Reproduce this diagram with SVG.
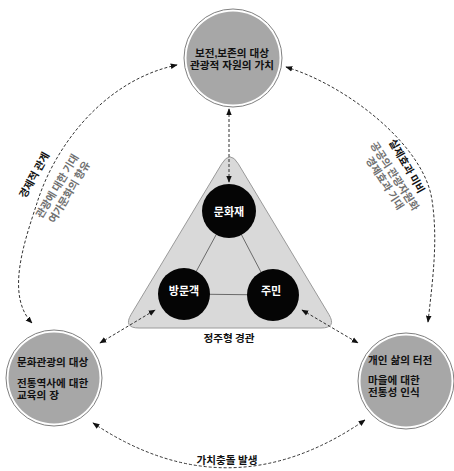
<svg xmlns="http://www.w3.org/2000/svg" width="454" height="471" viewBox="0 0 454 471">
<style>
text{font-family:"Noto Sans CJK KR","Noto Sans",sans-serif;font-weight:700;}
.big{font-size:10.6px;fill:#111;}
.tight{font-family:"Liberation Sans","Noto Sans CJK KR",sans-serif;}
.wt{font-size:11px;fill:#fff;text-anchor:middle;}
.arcb{font-size:10.5px;fill:#111;text-anchor:middle;}
.arcg{font-size:10.5px;fill:#707070;text-anchor:middle;}
.dash{fill:none;stroke:#333;stroke-width:1;stroke-dasharray:3 2;marker-start:url(#ah);marker-end:url(#ah);}
.ring{fill:#fff;stroke:#808080;stroke-width:1;}
.core{fill:#a7a7a7;}
.blk{fill:#050505;}
</style>
<defs>
<marker id="ah" viewBox="0 0 10 10" refX="9" refY="5" markerWidth="7" markerHeight="7" markerUnits="userSpaceOnUse" orient="auto-start-reverse">
<path d="M0,1 L10,5 L0,9 z" fill="#111"/>
</marker>
</defs>
<rect width="454" height="471" fill="#fff"/>

<g id="landscape">
<path d="M221.8,163.7 Q230,150 238.2,163.7 L328.8,314.3 Q337,328 321,328 L139,328 Q123,328 131.2,314.3 Z" fill="#d9d9d9" stroke="#9a9a9a" stroke-width="1"/>
<g stroke="#6a6a6a" stroke-width="1">
<line x1="229" y1="211" x2="184" y2="294"/>
<line x1="229" y1="211" x2="273" y2="295"/>
<line x1="184" y1="294" x2="273" y2="295"/>
</g>
<text class="big" x="229" y="342" text-anchor="middle">정주형 경관</text>
</g>

<g id="connectors">
<path class="dash" d="M177,65 C105,80 55,145 37,203 C25,240 5,295 32,323"/>
<path class="dash" d="M286,67 C346,85 424,145 432,200 C438,240 433,277 428,322"/>
<path class="dash" d="M93,423 Q229,514 365,420"/>
<path class="dash" d="M229,109 L229,182"/>
<path class="dash" d="M100,343 L155,310"/>
<path class="dash" d="M302,310 L358,343"/>
</g>

<g id="label-left-arc">
<text class="arcb" transform="translate(34,175) rotate(-61)" y="4">경제적 관계</text>
<text class="arcg" transform="translate(57,186) rotate(-59)" y="4">관광에 대한 기대</text>
<text class="arcg" transform="translate(69,192) rotate(-59)" y="4">여가문화의 향유</text>
</g>
<g id="label-right-arc">
<text class="arcb" transform="translate(407,166) rotate(60)" y="4">실제효과 미비</text>
<text class="arcg" transform="translate(395,176) rotate(57)" y="4">공공의 관광자원화</text>
<text class="arcg" transform="translate(385,183) rotate(57)" y="4">경제효과 기대</text>
</g>
<g id="label-bottom-arc">
<text class="big" x="227" y="464" text-anchor="middle">가치충돌 발생</text>
</g>

<g id="node-top">
<circle class="ring" cx="233" cy="58" r="49"/>
<circle class="core" cx="233" cy="58" r="46.5"/>
<text class="big tight" x="232" y="56.5" text-anchor="middle">보전,보존의 대상</text>
<text class="big tight" x="232" y="69" text-anchor="middle">관광적 자원의 가치</text>
</g>

<g id="node-left">
<circle class="ring" cx="54" cy="378" r="48"/>
<circle class="core" cx="54" cy="378" r="45.5"/>
<text class="big tight" x="17" y="366">문화관광의 대상</text>
<text class="big tight" x="17" y="386.5">전통역사에 대한</text>
<text class="big tight" x="17" y="399">교육의 장</text>
</g>

<g id="node-right">
<circle class="ring" cx="406" cy="381" r="48"/>
<circle class="core" cx="406" cy="381" r="45.5"/>
<text class="big tight" x="368" y="364">개인 삶의 터전</text>
<text class="big tight" x="368" y="383.5">마을에 대한</text>
<text class="big tight" x="368" y="396">전통성 인식</text>
</g>

<g id="node-munhwajae">
<circle class="blk" cx="229" cy="211" r="27"/>
<text class="wt" x="229" y="216">문화재</text>
</g>
<g id="node-visitor">
<circle class="blk" cx="184" cy="294" r="26"/>
<text class="wt" x="184" y="295">방문객</text>
</g>
<g id="node-resident">
<circle class="blk" cx="273" cy="295" r="26"/>
<text class="wt" x="271" y="295">주민</text>
</g>
</svg>
